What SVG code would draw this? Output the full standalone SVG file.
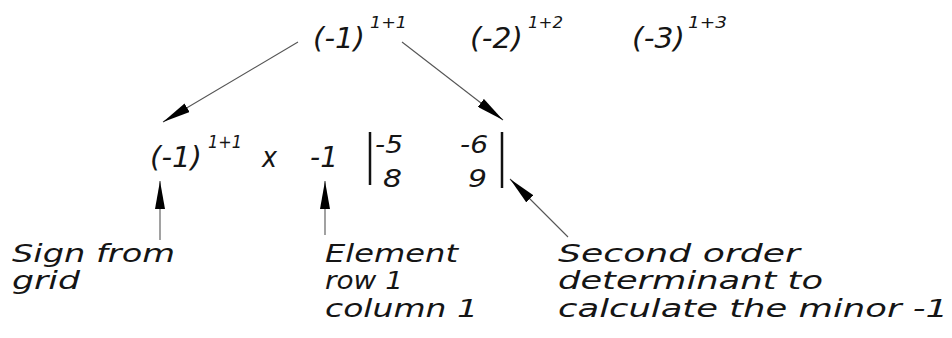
<svg xmlns="http://www.w3.org/2000/svg" width="952" height="338" viewBox="0 0 952 338">
<style>
text{font-family:"DejaVu Sans","Liberation Sans",sans-serif;font-style:italic;fill:#151515;}
.big{font-size:29px;}
.sup{font-size:16px;}
.mid{font-size:25px;}
.lbl{font-size:24px;}
.conn{stroke:#555;stroke-width:1.1;fill:none;marker-end:url(#ah);}
.bar{stroke:#111;stroke-width:2.5;}
</style>
<defs>
<marker id="ah" markerUnits="userSpaceOnUse" viewBox="0 0 28 10" refX="28" refY="5" markerWidth="28" markerHeight="10" orient="auto">
<path d="M0,0 L28,5 L0,10 z" fill="#000"/>
</marker>
</defs>
<rect width="952" height="338" fill="#fff"/>
<g id="sign-grid-top">
<text class="big" x="313" y="48" textLength="52" lengthAdjust="spacingAndGlyphs">(-1)</text>
<text class="sup" x="370" y="28" textLength="37" lengthAdjust="spacingAndGlyphs">1+1</text>
<text class="big" x="470" y="48" textLength="53" lengthAdjust="spacingAndGlyphs">(-2)</text>
<text class="sup" x="528" y="28" textLength="35" lengthAdjust="spacingAndGlyphs">1+2</text>
<text class="big" x="632" y="48" textLength="53" lengthAdjust="spacingAndGlyphs">(-3)</text>
<text class="sup" x="688" y="28" textLength="39" lengthAdjust="spacingAndGlyphs">1+3</text>
</g>
<g id="sign-term">
<text class="big" x="150" y="167" textLength="52" lengthAdjust="spacingAndGlyphs">(-1)</text>
<text class="sup" style="font-size:17px" x="208" y="148" textLength="34" lengthAdjust="spacingAndGlyphs">1+1</text>
</g>
<g id="times">
<text class="big" x="262" y="167" textLength="15" lengthAdjust="spacingAndGlyphs">x</text>
</g>
<g id="element">
<text class="big" x="310" y="167" textLength="28" lengthAdjust="spacingAndGlyphs">-1</text>
</g>
<g id="minor">
<line class="bar" x1="370" y1="132" x2="370" y2="185"/>
<line class="bar" x1="502" y1="132" x2="502" y2="188"/>
<text class="mid" x="375" y="153" textLength="28" lengthAdjust="spacingAndGlyphs">-5</text>
<text class="mid" x="383" y="187" textLength="19" lengthAdjust="spacingAndGlyphs">8</text>
<text class="mid" x="460" y="153" textLength="28" lengthAdjust="spacingAndGlyphs">-6</text>
<text class="mid" x="468" y="187" textLength="19" lengthAdjust="spacingAndGlyphs">9</text>
</g>
<g id="label-sign">
<text class="lbl" x="12" y="262" textLength="163" lengthAdjust="spacingAndGlyphs">Sign from</text>
<text class="lbl" x="12" y="289" textLength="68" lengthAdjust="spacingAndGlyphs">grid</text>
</g>
<g id="label-element">
<text class="lbl" x="325" y="262" textLength="133" lengthAdjust="spacingAndGlyphs">Element</text>
<text class="lbl" x="325" y="289" textLength="78" lengthAdjust="spacingAndGlyphs">row 1</text>
<text class="lbl" x="325" y="317" textLength="153" lengthAdjust="spacingAndGlyphs">column 1</text>
</g>
<g id="label-minor">
<text class="lbl" x="558" y="262" textLength="242" lengthAdjust="spacingAndGlyphs">Second order</text>
<text class="lbl" x="558" y="289" textLength="265" lengthAdjust="spacingAndGlyphs">determinant to</text>
<text class="lbl" x="558" y="317" textLength="390" lengthAdjust="spacingAndGlyphs">calculate the minor -1</text>
</g>
<g id="connectors">
<line class="conn" x1="298" y1="42" x2="163" y2="122"/>
<line class="conn" x1="402" y1="42" x2="503" y2="120"/>
<line class="conn" x1="160" y1="240" x2="160" y2="181"/>
<line class="conn" x1="325" y1="235" x2="325" y2="181"/>
<line class="conn" x1="568" y1="237" x2="510" y2="179"/>
</g>
</svg>
